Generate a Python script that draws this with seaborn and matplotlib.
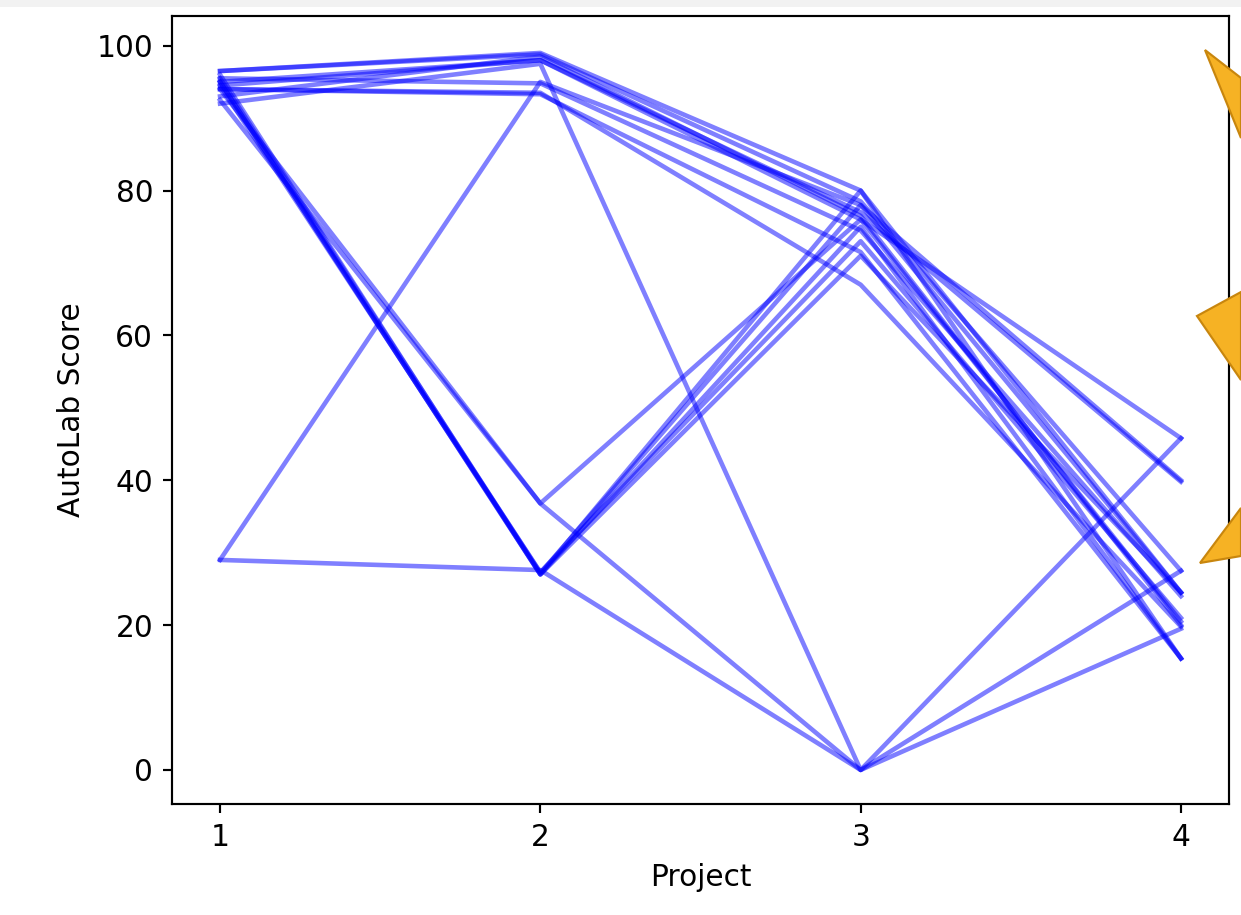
import pandas as pd
import matplotlib.pyplot as plt
import seaborn as sns
from matplotlib.patches import Polygon, Rectangle

projects = [1, 2, 3, 4]

# one row per student, scores for projects 1-4
student_ids = list("ABCDEFGHIJKLMNOPQR")
p1 = [96.5, 96.5, 95.0, 94.5, 92.0, 94.0, 95.5, 94.0, 96.0, 95.0, 94.5, 92.5, 94.0, 29.0, 29.0, 95.0, 95.5, 93.0]
p2 = [99.0, 98.8, 98.0, 98.0, 97.5, 93.3, 94.8, 93.5, 27.0, 27.0, 27.3, 36.8, 36.8, 95.0, 27.6, 27.0, 27.2, 98.5]
p3 = [80.0, 78.5, 77.0, 76.0, 0.0, 71.5, 74.5, 67.0, 80.0, 71.0, 73.0, 76.0, 0.0, 78.0, 0.0, 75.0, 78.0, 76.5]
p4 = [24.5, 27.5, 39.8, 20.5, 45.8, 15.4, 24.0, 19.8, 15.4, 24.5, 21.0, 45.8, 27.5, 40.0, 19.5, 15.4, 24.5, 20.0]


def autolab_lines():
    rows = []
    for i, sid in enumerate(student_ids):
        for proj, col in zip(projects, [p1, p2, p3, p4]):
            rows.append({'Student': sid, 'Project': proj, 'AutoLab Score': col[i]})
    df = pd.DataFrame(rows)

    plt.rcParams['font.size'] = 11
    fig = plt.figure(figsize=(1241 / 194, 915 / 194), dpi=194)
    ax = fig.add_axes([172 / 1241, 1 - 804 / 915, (1229 - 172) / 1241, (804 - 16) / 915])
    sns.lineplot(data=df, x='Project', y='AutoLab Score', units='Student',
                 estimator=None, color='blue', alpha=0.5, linewidth=1.7, ax=ax)
    ax.set_xticks(projects)
    ax.set_yticks([0, 20, 40, 60, 80, 100])
    ax.set_xlim(0.85, 4.15)
    ax.set_ylim(-4.7, 104.1)

    # thin grey strip of the screenshot frame
    fig.patches.append(Rectangle((0, 1 - 7 / 915), 1, 7 / 915, transform=fig.transFigure,
                                 facecolor='#f2f2f2', edgecolor='none', zorder=0))

    # orange callout arrows sitting over the right edge of the screenshot
    arrows = [
        [(1205, 50), (1241, 78), (1241, 138)],
        [(1197, 316), (1241, 292), (1241, 380)],
        [(1200, 563), (1241, 508), (1241, 556)],
    ]
    for pts in arrows:
        fpts = [(x / 1241, 1 - y / 915) for x, y in pts]
        fig.patches.append(Polygon(fpts, closed=True, transform=fig.transFigure,
                                   facecolor='#F6B224', edgecolor='#C8860E',
                                   linewidth=0.8, zorder=5))

    plt.savefig('out.png', dpi=194)


if __name__ == "__main__":
    autolab_lines()
